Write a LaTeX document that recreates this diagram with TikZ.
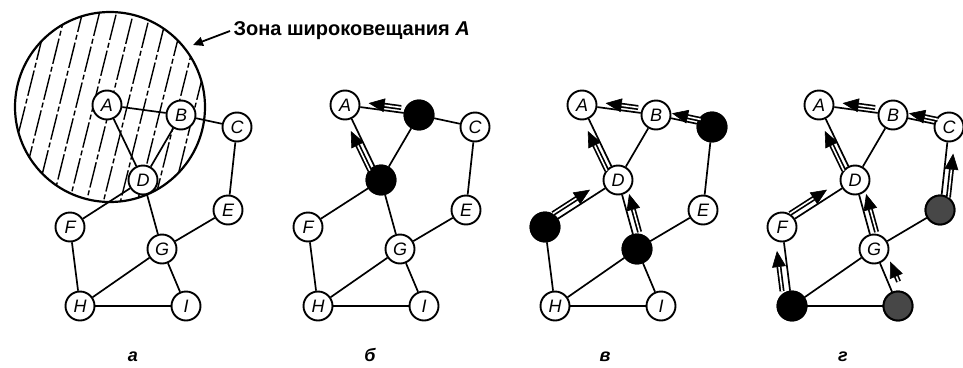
\documentclass[tikz,border=0pt]{standalone}
\usepackage{fontspec}
\setsansfont{Liberation Sans}
\usetikzlibrary{calc,arrows.meta}
\tikzset{
  nd/.style={circle, draw, line width=1.9pt, fill=white, minimum size=29pt, inner sep=0pt,
    font=\sffamily\itshape\fontsize{18}{18}\selectfont},
  blk/.style={circle, draw, line width=1.9pt, fill=black, minimum size=29pt, inner sep=0pt},
  gry/.style={blk, fill=black!72},
  edge/.style={line width=1.7pt},
  hatch/.style={line width=1.4pt, dash pattern=on 26pt off 3pt on 5pt off 3pt},
  plabel/.style={anchor=base, font=\sffamily\bfseries\itshape\fontsize{18}{18}\selectfont},
  flowshaft/.style={line width=5pt},
  flowcore/.style={white, line width=1.6pt},
  flowhead/.style={fill=black, draw=black, line width=0.6pt, line join=miter},
}
\newcommand\flw[5]{%
  \coordinate (flwS) at ($(#1)!#4!(#2)!#3!90:(#2)$);
  \coordinate (flwT) at ($(#1)!#5!(#2)!#3!90:(#2)$);
  \coordinate (flwB) at ($(flwT)!15pt!(flwS)$);
  \draw[flowshaft] (flwS) -- (flwB);
  \draw[flowcore] (flwS) -- ($(flwT)!12pt!(flwS)$);
  \fill[flowhead] (flwT) -- ($(flwB)!6.5pt!90:(flwS)$) -- ($(flwB)!6.5pt!-90:(flwS)$) -- cycle;
}
\newcommand\netpanel[2]{%
  \begin{scope}[shift={(#2,0)}]
    \foreach \n/\px/\py in {A/107/105,B/181/115,C/237/127,D/143/180,E/228/210,
                            F/70/227,G/162/249,H/80/306,I/186/306}
      \node[nd] (#1\n) at (\px,\py) {\n};
  \end{scope}
  \foreach \u/\v in {A/B,A/D,B/D,B/C,C/E,D/F,D/G,E/G,G/H,G/I,F/H,H/I}
    \draw[edge] (#1\u) -- (#1\v);
}
\begin{document}
\begin{tikzpicture}[x=1pt,y=-1pt]
\useasboundingbox (0,0) rectangle (963,367);

% panel a: broadcast zone
\begin{scope}
  \clip (110,107) circle (95);
  \foreach \k in {-7,...,7}
    \draw[hatch] ({110+\k*16.5*0.970-120*0.242},{107+\k*16.5*0.242+120*0.970})
              -- ({110+\k*16.5*0.970+120*0.242},{107+\k*16.5*0.242-120*0.970});
\end{scope}
\draw[line width=2.2pt] (110,107) circle (95);
\netpanel{a}{0}
\node[anchor=west, font=\sffamily\bfseries\fontsize{20}{20}\selectfont] (zone) at (230,31)
  {Зона широковещания \textit{A}};
\coordinate (zonept) at (193,45);
\draw[line width=1.8pt, -{Triangle[length=10pt,width=9pt]}] (zone.west) -- (zonept);
\node[plabel] (la) at (133,361) {а};

% panel b
\netpanel{b}{238}
\node[blk] (bBf) at (bB) {};
\node[blk] (bDf) at (bD) {};
\flw{bB}{bA}{-5pt}{0.25}{0.68}
\flw{bD}{bA}{6pt}{0.16}{0.68}
\node[plabel] (lb) at (370,361) {б};

% panel c
\netpanel{c}{475}
\node[blk] (cCf) at (cC) {};
\node[blk] (cFf) at (cF) {};
\node[blk] (cGf) at (cG) {};
\flw{cB}{cA}{-5pt}{0.25}{0.68}
\flw{cC}{cB}{-5pt}{0.22}{0.72}
\flw{cD}{cA}{6pt}{0.16}{0.68}
\flw{cF}{cD}{7pt}{0.16}{0.66}
\flw{cG}{cD}{-7pt}{0.22}{0.76}
\node[plabel] (lc) at (605,361) {в};

% panel d
\netpanel{d}{712}
\node[gry] (dEf) at (dE) {};
\node[blk] (dHf) at (dH) {};
\node[gry] (dIf) at (dI) {};
\flw{dB}{dA}{-5pt}{0.25}{0.68}
\flw{dC}{dB}{-5pt}{0.22}{0.72}
\flw{dD}{dA}{6pt}{0.16}{0.68}
\flw{dF}{dD}{7pt}{0.16}{0.66}
\flw{dG}{dD}{-7pt}{0.22}{0.76}
\flw{dE}{dC}{-7pt}{0.16}{0.68}
\flw{dH}{dF}{8pt}{0.2}{0.7}
\flw{dI}{dG}{-10pt}{0.36}{0.7}
\node[plabel] (ld) at (843,361) {г};
\end{tikzpicture}
\end{document}
